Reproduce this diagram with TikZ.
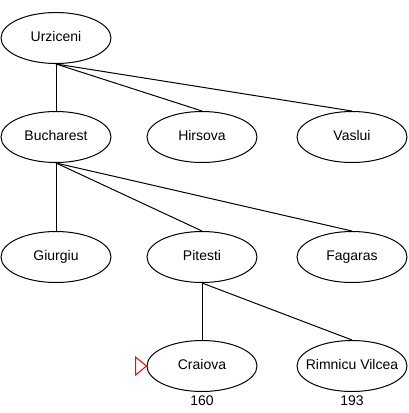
\documentclass[tikz,border=0pt]{standalone}
\usepackage{fontspec}
\setmainfont{Liberation Sans}
\usepackage{tikz}
\usetikzlibrary{shapes.geometric,positioning}

\begin{document}
\begin{tikzpicture}[
    x=1pt, y=-1pt,
    font=\fontsize{14}{16}\selectfont,
    city/.style={draw, ellipse, line width=1pt, minimum width=110pt, minimum height=51pt,
        inner xsep=-20pt, inner ysep=0pt, text height=10pt, text depth=3pt},
    cost/.style={inner sep=1.5pt},
    edge/.style={line width=1pt}
]
\useasboundingbox (0,0) rectangle (409,413);
\node[city] (urziceni) at (56,38) {Urziceni};
\node[city] (bucharest) at (56,137) {Bucharest};
\node[city] (hirsova) at (202,137) {Hirsova};
\node[city] (vaslui) at (352,137) {Vaslui};
\node[city] (giurgiu) at (56,257) {Giurgiu};
\node[city] (pitesti) at (202,257) {Pitesti};
\node[city] (fagaras) at (352,257) {Fagaras};
\node[city] (craiova) at (202,366) {Craiova};
\node[city] (rimnicu) at (352,366) {Rimnicu Vilcea};
\node[cost, below=2.5pt of craiova] (craiovacost) {160};
\node[cost, below=2.5pt of rimnicu] (rimnicucost) {193};
\draw[edge] (urziceni.south) -- (bucharest.north);
\draw[edge] (urziceni.south) -- (hirsova.north);
\draw[edge] (urziceni.south) -- (vaslui.north);
\draw[edge] (bucharest.south) -- (giurgiu.north);
\draw[edge] (bucharest.south) -- (pitesti.north);
\draw[edge] (bucharest.south) -- (fagaras.north);
\draw[edge] (pitesti.south) -- (craiova.north);
\draw[edge] (pitesti.south) -- (rimnicu.north);
% marker
\draw[red, line width=1pt] ([shift={(-11,-9)}]craiova.west) -- (craiova.west) -- ([shift={(-11,9)}]craiova.west) -- cycle;
\end{tikzpicture}
\end{document}
